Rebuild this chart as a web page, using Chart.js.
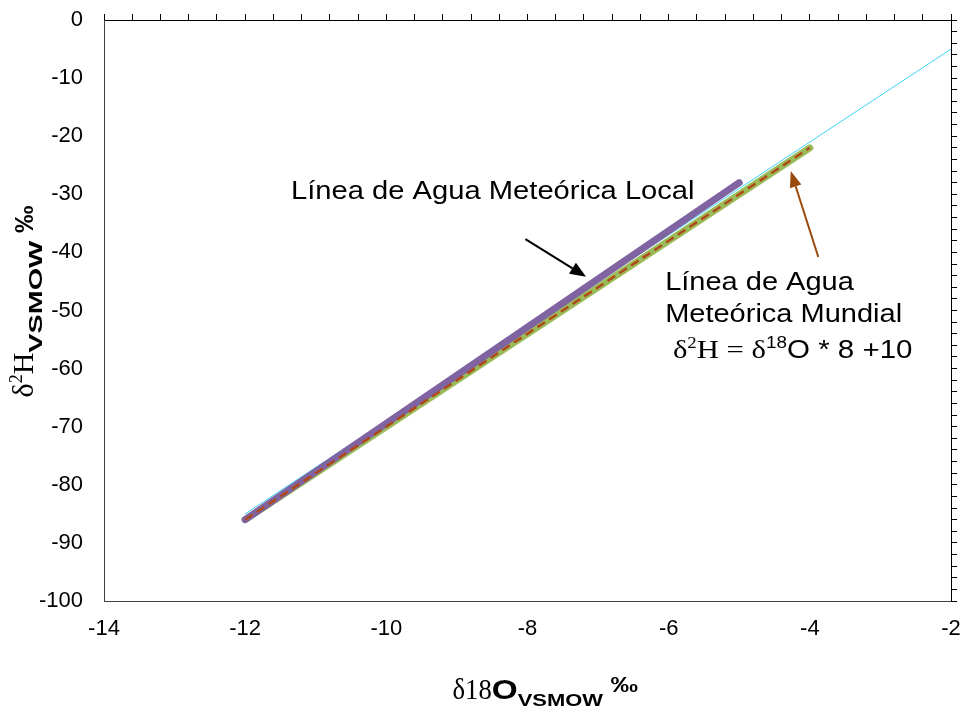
<!DOCTYPE html>
<html>
<head>
<meta charset="utf-8">
<script src="https://cdn.jsdelivr.net/npm/chart.js@4.4.1/dist/chart.umd.min.js"></script>
<style>
  body { margin: 0; background: #fff; }
</style>
</head>
<body>
<canvas id="myChart" width="965" height="709"></canvas>
<script>
// local meteoric water line (LMWL)
const lmwlX = [-12, -5];
const lmwlY = [-86, -28];
// global meteoric water line  d2H = 8*d18O + 10
const gmwlX = [-12, -4];
const gmwlY = [-86, -22];
// thin cyan trend line
const trendX = [-12, -2];
const trendY = [-85, -5];

const xTickLabels = [-14, -12, -10, -8, -6, -4, -2];
const yTickLabels = [0, -10, -20, -30, -40, -50, -60, -70, -80, -90, -100];

// minor tick marks on the top / right frame
const topMinorTicks = Array.from({ length: 31 }, (_, i) => -14 + i * 0.4);
const rightMinorTicks = Array.from({ length: 51 }, (_, i) => -100 + i * 2);

const toPoints = (xs, ys) => xs.map((x, i) => ({ x, y: ys[i] }));

const SANS = '"Liberation Sans", Arial, sans-serif';
const SERIF = '"Liberation Serif", "Times New Roman", serif';

// text runs with their own font, baseline shift and horizontal stretch
function drawRuns(ctx, runs, x0, y0, sxAll) {
  let x = x0;
  runs.forEach((r) => {
    const sx = r.sx || sxAll || 1;
    ctx.font = r.f;
    ctx.save();
    ctx.translate(x, y0 + (r.dy || 0));
    ctx.scale(sx, 1);
    ctx.fillText(r.t, 0, 0);
    ctx.restore();
    x += ctx.measureText(r.t).width * sx;
  });
}

function arrow(ctx, x1, y1, x2, y2, color, width, headLen, headW) {
  const ang = Math.atan2(y2 - y1, x2 - x1);
  const bx = x2 - headLen * Math.cos(ang);
  const by = y2 - headLen * Math.sin(ang);
  ctx.strokeStyle = color;
  ctx.fillStyle = color;
  ctx.lineWidth = width;
  ctx.beginPath();
  ctx.moveTo(x1, y1);
  ctx.lineTo(bx, by);
  ctx.stroke();
  ctx.beginPath();
  ctx.moveTo(x2, y2);
  ctx.lineTo(bx + headW / 2 * Math.sin(ang), by - headW / 2 * Math.cos(ang));
  ctx.lineTo(bx - headW / 2 * Math.sin(ang), by + headW / 2 * Math.cos(ang));
  ctx.closePath();
  ctx.fill();
}

const notes = {
  id: "notes",
  afterDraw(chart) {
    const { ctx, chartArea, scales } = chart;
    const px = (v) => scales.x.getPixelForValue(v);
    const py = (v) => scales.y.getPixelForValue(v);
    ctx.save();
    ctx.textAlign = "left";
    ctx.textBaseline = "alphabetic";
    ctx.fillStyle = "#000";

    // annotations
    drawRuns(ctx, [{ t: "Línea de Agua Meteórica Local", f: "26.5px " + SANS }], px(-11.35), py(-30.8), 1.1);
    arrow(ctx, px(-8.03), py(-37.7), px(-7.17), py(-44.2), "#000", 2, 16, 13);

    ctx.fillStyle = "#000";
    drawRuns(ctx, [{ t: "Línea de Agua", f: "25px " + SANS }], px(-6.05), py(-46.5), 1.16);
    drawRuns(ctx, [{ t: "Meteórica Mundial", f: "25px " + SANS }], px(-6.05), py(-52.0), 1.16);
    drawRuns(ctx, [
      { t: "δ", f: "26px " + SERIF },
      { t: "2", f: "16px " + SERIF, dy: -10 },
      { t: "H = ", f: "26px " + SERIF },
      { t: "δ", f: "26px " + SERIF },
      { t: "18", f: "16px " + SANS, dy: -10 },
      { t: "O * 8 +10", f: "25px " + SANS }
    ], px(-5.94), py(-58.2), 1.18);
    arrow(ctx, px(-3.88), py(-40.8), px(-4.27), py(-26.0), "#9A4A0C", 2, 16, 12);

    // axis titles
    ctx.fillStyle = "#000";
    const cx = (chartArea.left + chartArea.right) / 2;
    drawRuns(ctx, [
      { t: "δ18", f: "29px " + SERIF, sx: 0.92 },
      { t: "O", f: "bold 28px " + SANS, sx: 1.19 },
      { t: "VSMOW", f: "bold 16px " + SANS, dy: 7, sx: 1.37 },
      { t: " ‰", f: "bold 22px " + SANS, dy: -7, sx: 1.25 }
    ], cx - 75, chartArea.bottom + 98);

    const cy = (chartArea.top + chartArea.bottom) / 2;
    ctx.translate(chartArea.left - 71, cy + 87);
    ctx.rotate(-Math.PI / 2);
    drawRuns(ctx, [
      { t: "δ", f: "30px " + SERIF },
      { t: "2", f: "18px " + SERIF, dy: -11 },
      { t: "H", f: "30px " + SERIF },
      { t: "VSMOW", f: "bold 18px " + SANS, dy: 9, sx: 1.6 },
      { t: " ‰", f: "bold 25px " + SANS, sx: 1.1 }
    ], 0, 0);
    ctx.restore();
  }
};

const data = {
  datasets: [
    {
      label: "LMAM 8x+10 (trazos)",
      data: toPoints(gmwlX, gmwlY),
      borderColor: "#B0481A",
      borderWidth: 2.5,
      borderDash: [9, 5],
      showLine: true,
      pointRadius: 0,
    },
    {
      label: "LMAL",
      data: toPoints(lmwlX, lmwlY),
      borderColor: "#8064A2",
      borderWidth: 7,
      borderCapStyle: "round",
      showLine: true,
      pointRadius: 0,
    },
    {
      label: "Tendencia",
      data: toPoints(trendX, trendY),
      borderColor: "#3DD2F7",
      borderWidth: 1,
      showLine: true,
      pointRadius: 0,
    },
    {
      label: "LMAM",
      data: toPoints(gmwlX, gmwlY),
      borderColor: "#9BBB59",
      borderWidth: 7,
      borderCapStyle: "round",
      showLine: true,
      pointRadius: 0,
    },
  ],
};

// fixed box sizes so the plot area sits where the original has it
const fixBox = (w, h) => (s) => {
  if (w !== null) s.width = w;
  if (h !== null) s.height = h;
  s.paddingLeft = s.paddingRight = s.paddingTop = s.paddingBottom = 0;
};

const config = {
  type: "scatter",
  data,
  options: {
    responsive: false,
    animation: false,
    devicePixelRatio: 1,
    layout: { padding: 0 },
    plugins: { legend: { display: false }, tooltip: { enabled: false } },
    scales: {
      x: {
        type: "linear",
        position: "bottom",
        min: -14,
        max: -2,
        afterBuildTicks: (s) => { s.ticks = xTickLabels.map((v) => ({ value: v })); },
        ticks: { color: "#000", font: { family: SANS, size: 22 }, padding: 15 },
        grid: { drawOnChartArea: false, drawTicks: false },
        border: { color: "#404040", width: 1 },
        afterFit: fixBox(null, 108),
      },
      xTop: {
        type: "linear",
        position: "top",
        min: -14,
        max: -2,
        afterBuildTicks: (s) => { s.ticks = topMinorTicks.map((v) => ({ value: v })); },
        ticks: { display: false },
        grid: { drawOnChartArea: false, tickLength: 6, color: "#000" },
        border: { color: "#000", width: 1 },
        afterFit: fixBox(null, 20),
      },
      y: {
        type: "linear",
        position: "left",
        min: -100,
        max: 0,
        afterBuildTicks: (s) => { s.ticks = yTickLabels.map((v) => ({ value: v })); },
        ticks: { color: "#000", font: { family: SANS, size: 22 }, padding: 21 },
        grid: { drawOnChartArea: false, drawTicks: false },
        border: { color: "#404040", width: 1 },
        afterFit: fixBox(104, null),
      },
      yRight: {
        type: "linear",
        position: "right",
        min: -100,
        max: 0,
        afterBuildTicks: (s) => { s.ticks = rightMinorTicks.map((v) => ({ value: v })); },
        ticks: { display: false },
        grid: { drawOnChartArea: false, tickLength: 6, color: "#000" },
        border: { color: "#000", width: 1 },
        afterFit: fixBox(14, null),
      },
    },
  },
  plugins: [notes],
};

var myChart = new Chart(document.getElementById("myChart"), config);
</script>
</body>
</html>
